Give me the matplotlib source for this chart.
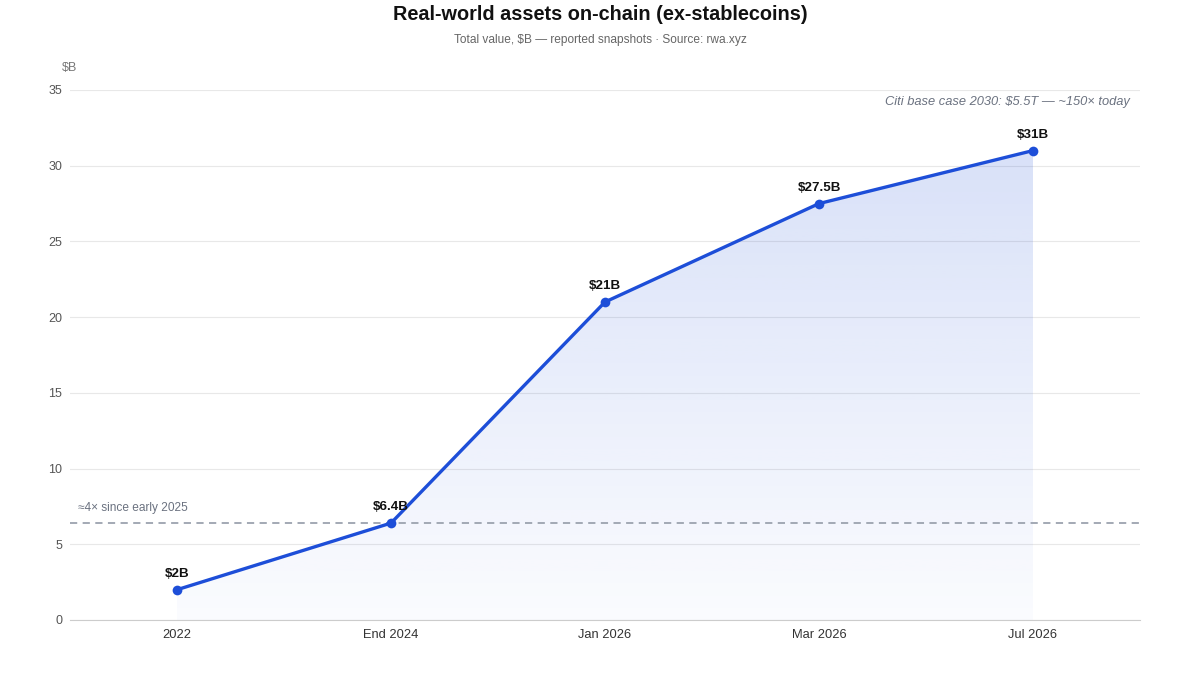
import matplotlib
matplotlib.use("Agg")
import matplotlib.pyplot as plt
import numpy as np
from matplotlib.patches import Polygon
from matplotlib.colors import LinearSegmentedColormap

plt.rcParams['font.family'] = ['Liberation Sans', 'DejaVu Sans']

categories = ["2022", "End 2024", "Jan 2026", "Mar 2026", "Jul 2026"]
values = [2, 6.4, 21, 27.5, 31]
labels = ["$2B", "$6.4B", "$21B", "$27.5B", "$31B"]
yticks = [0, 5, 10, 15, 20, 25, 30, 35]
ref_value = 6.4

fig = plt.figure(figsize=(12, 6.75), dpi=100)
ax = fig.add_axes([70/1200, 55/675, 1070/1200, 530/675])
x = np.arange(len(categories))
ax.set_xlim(-0.5, len(categories) - 0.5)
ax.set_ylim(0, 35)

# gradient fill
grad = np.linspace(0, 1, 256).reshape(-1, 1)
cmap = LinearSegmentedColormap.from_list("g", [(29/255, 78/255, 216/255, 0.02), (29/255, 78/255, 216/255, 0.17)])
im = ax.imshow(grad, extent=[x[0], x[-1], 0, max(values)], origin='lower', aspect='auto', cmap=cmap, zorder=1)
poly = Polygon(list(zip(x, values)) + [(x[-1], 0), (x[0], 0)], closed=True, transform=ax.transData,
               facecolor='none', edgecolor='none')
ax.add_patch(poly)
im.set_clip_path(poly)

ax.plot(x, values, color='#1d4ed8', lw=2.4, zorder=4, marker='o', markersize=7, markeredgewidth=0)

for xi, v, lab in zip(x, values, labels):
    ax.annotate(lab, (xi, v), xytext=(0, 7), textcoords='offset points', ha='center', va='bottom',
                fontsize=9.6, fontweight='bold', color='#111111', zorder=5)

ax.axhline(ref_value, color='#9ca3af', lw=1.3, ls=(0, (4, 3)), zorder=3)
ax.text(0.0075, (ref_value + 0.6) / 35, "≈4× since early 2025", transform=ax.transAxes, fontsize=8.6,
        color='#6b7280', ha='left', va='bottom')
ax.text(1 - 10/1070, 1 - 11.5/530, "Citi base case 2030: $5.5T — ~150× today", transform=ax.transAxes,
        fontsize=9.3, style='italic', color='#6b7280', ha='right', va='center')

ax.set_yticks(yticks)
ax.set_yticklabels([str(t) for t in yticks])
ax.set_xticks(x)
ax.set_xticklabels(categories)
ax.grid(axis='y', color='#e8e8e8', lw=0.8, zorder=0)
ax.set_axisbelow(True)
for s in ['top', 'right', 'left']:
    ax.spines[s].set_visible(False)
ax.spines['bottom'].set_color('#cccccc')
ax.tick_params(axis='y', length=0, pad=5.5, labelsize=9, labelcolor='#555555')
ax.tick_params(axis='x', length=0, pad=6.5, labelsize=9.3, labelcolor='#333333')

fig.text(70/1200, 1 - 68/675, "$B", fontsize=9, color='#777777', ha='center', va='center')
fig.text(0.5, 1 - 15/675, "Real-world assets on-chain (ex-stablecoins)", fontsize=14.3, fontweight='bold',
         color='#111111', ha='center', va='center')
fig.text(0.5, 1 - 40/675, "Total value, $B — reported snapshots · Source: rwa.xyz", fontsize=8.6,
         color='#666666', ha='center', va='center')

fig.savefig("out.png", dpi=100)
